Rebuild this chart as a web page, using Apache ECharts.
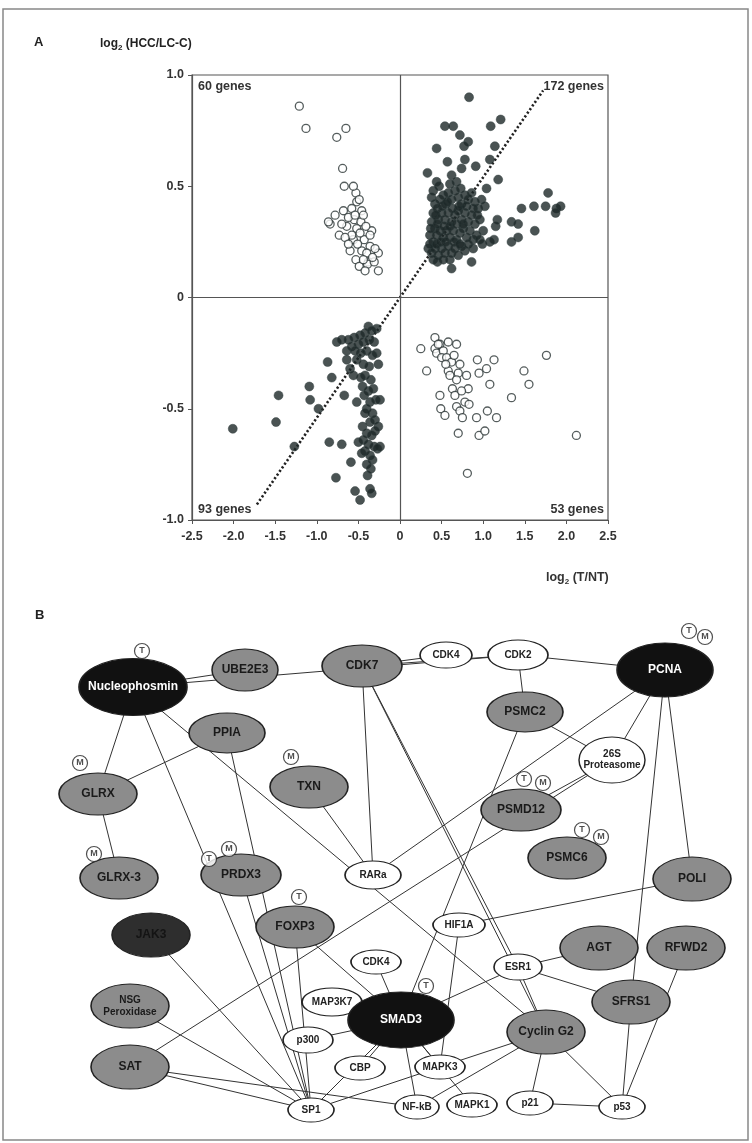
<!DOCTYPE html>
<html>
<head>
<meta charset="utf-8">
<script src="https://cdn.jsdelivr.net/npm/echarts@6/dist/echarts.min.js"></script>
<style>
  html, body { margin: 0; padding: 0; background: #fff; }
  #chart { width: 752px; height: 1143px; }
</style>
</head>
<body>
<div id="chart"></div>
<script>
// ---- panel A data: log2(T/NT) vs log2(HCC/LC-C)
const upLeft = [[-1.21,0.86],[-1.13,0.76],[-0.76,0.72],[-0.65,0.76],[-0.69,0.58],[-0.67,0.50],[-0.53,0.47],[-0.52,0.43],[-0.46,0.39],[-0.68,0.39],[-0.78,0.37],[-0.84,0.33],[-0.86,0.34],[-0.73,0.28],[-0.56,0.26],[-0.34,0.30],[-0.26,0.20],[-0.26,0.12],[-0.53,0.17],[-0.49,0.14],[-0.38,0.16],[-0.60,0.21],[-0.64,0.32],[-0.55,0.35],[-0.47,0.34],[-0.52,0.31],[-0.43,0.26],[-0.36,0.23],[-0.39,0.15],[-0.31,0.16],[-0.46,0.21],[-0.62,0.36],[-0.58,0.40],[-0.49,0.44],[-0.44,0.37],[-0.41,0.32],[-0.58,0.28],[-0.66,0.27],[-0.51,0.24],[-0.40,0.20],[-0.33,0.18],[-0.44,0.17],[-0.36,0.28],[-0.70,0.33],[-0.56,0.50],[-0.48,0.29],[-0.62,0.24],[-0.30,0.22],[-0.42,0.12],[-0.54,0.37]]
const upRight = [[0.83,0.90],[0.54,0.77],[0.64,0.77],[1.09,0.77],[1.21,0.80],[0.72,0.73],[0.82,0.70],[0.77,0.68],[0.44,0.67],[1.14,0.68],[0.78,0.62],[1.08,0.62],[0.57,0.61],[0.91,0.59],[0.74,0.58],[0.33,0.56],[0.62,0.55],[0.44,0.52],[1.18,0.53],[0.68,0.52],[1.04,0.49],[1.78,0.47],[1.46,0.40],[1.61,0.41],[1.75,0.41],[1.88,0.40],[1.93,0.41],[1.87,0.38],[1.34,0.34],[1.42,0.33],[1.62,0.30],[1.42,0.27],[1.34,0.25],[1.17,0.35],[1.15,0.32],[0.99,0.24],[1.08,0.25],[1.13,0.26],[0.86,0.16],[0.62,0.13],
  [0.38,0.45],[0.42,0.42],[0.40,0.38],[0.45,0.40],[0.48,0.44],[0.52,0.46],[0.55,0.42],[0.58,0.47],[0.62,0.44],[0.66,0.48],[0.70,0.45],[0.74,0.42],[0.78,0.46],[0.82,0.44],[0.86,0.47],[0.90,0.43],[0.94,0.40],[0.98,0.44],[1.02,0.41],[0.38,0.34],[0.42,0.31],[0.46,0.35],[0.50,0.38],[0.54,0.35],[0.58,0.38],[0.62,0.34],[0.66,0.37],[0.70,0.39],[0.74,0.35],[0.78,0.38],[0.82,0.34],[0.86,0.37],[0.90,0.33],[0.96,0.35],[1.00,0.30],[0.36,0.28],[0.40,0.25],[0.44,0.28],[0.48,0.30],[0.52,0.27],[0.56,0.30],[0.60,0.27],[0.64,0.30],[0.68,0.26],[0.72,0.29],[0.76,0.31],[0.80,0.27],[0.84,0.30],[0.88,0.26],[0.92,0.28],[0.34,0.22],[0.38,0.20],[0.42,0.22],[0.46,0.19],[0.50,0.22],[0.54,0.20],[0.58,0.23],[0.62,0.20],[0.66,0.22],[0.70,0.19],[0.74,0.23],[0.78,0.21],[0.82,0.24],[0.40,0.17],[0.45,0.16],[0.52,0.17],[0.60,0.17],[0.36,0.24],[0.44,0.24],[0.49,0.25],[0.55,0.25],[0.65,0.25],[0.72,0.24],[0.45,0.33],[0.53,0.32],[0.60,0.32],[0.68,0.33],[0.76,0.33],[0.63,0.40],[0.71,0.41],[0.51,0.41],[0.43,0.37],[0.57,0.43],[0.80,0.41],[0.88,0.40],[0.40,0.48],[0.47,0.50],[0.60,0.51],[0.73,0.49],[0.93,0.37],[0.37,0.31],[0.96,0.26],[0.88,0.22]]
const lowLeft = [[-2.01,-0.59],[-1.49,-0.56],[-1.46,-0.44],[-1.27,-0.67],[-1.09,-0.40],[-1.08,-0.46],[-0.98,-0.50],[-0.87,-0.29],[-0.82,-0.36],[-0.85,-0.65],[-0.70,-0.66],[-0.77,-0.81],[-0.67,-0.44],[-0.59,-0.74],[-0.54,-0.87],[-0.48,-0.91],[-0.36,-0.86],[-0.34,-0.88],[-0.39,-0.80],[-0.64,-0.24],[-0.64,-0.28],[-0.76,-0.20],[-0.52,-0.47],[-0.38,-0.13],[-0.28,-0.14],[-0.24,-0.46],[-0.26,-0.58],[-0.24,-0.67],[-0.28,-0.25],
  [-0.70,-0.19],[-0.62,-0.19],[-0.55,-0.18],[-0.48,-0.17],[-0.42,-0.16],[-0.34,-0.15],[-0.58,-0.22],[-0.50,-0.21],[-0.44,-0.20],[-0.37,-0.19],[-0.31,-0.20],[-0.47,-0.25],[-0.40,-0.24],[-0.33,-0.26],[-0.52,-0.28],[-0.60,-0.32],[-0.56,-0.35],[-0.44,-0.30],[-0.37,-0.31],[-0.42,-0.35],[-0.35,-0.37],[-0.45,-0.40],[-0.38,-0.42],[-0.32,-0.41],[-0.43,-0.44],[-0.36,-0.47],[-0.29,-0.46],[-0.40,-0.50],[-0.33,-0.52],[-0.30,-0.55],[-0.36,-0.56],[-0.45,-0.58],[-0.40,-0.61],[-0.34,-0.62],[-0.44,-0.64],[-0.38,-0.66],[-0.31,-0.67],[-0.27,-0.68],[-0.42,-0.69],[-0.36,-0.71],[-0.33,-0.73],[-0.40,-0.75],[-0.35,-0.77],[-0.42,-0.52],[-0.30,-0.60],[-0.47,-0.36],[-0.54,-0.24],[-0.26,-0.30],[-0.50,-0.65],[-0.46,-0.70]]
const lowRight = [[0.25,-0.23],[0.32,-0.33],[0.42,-0.18],[0.42,-0.23],[0.44,-0.25],[0.48,-0.21],[0.52,-0.24],[0.50,-0.27],[0.58,-0.20],[0.68,-0.21],[0.56,-0.27],[0.62,-0.29],[0.58,-0.33],[0.70,-0.34],[0.60,-0.35],[0.68,-0.37],[0.80,-0.35],[0.93,-0.28],[1.04,-0.32],[1.13,-0.28],[0.95,-0.34],[1.76,-0.26],[1.49,-0.33],[1.55,-0.39],[1.08,-0.39],[1.34,-0.45],[0.63,-0.41],[0.82,-0.41],[0.48,-0.44],[0.66,-0.44],[0.74,-0.42],[0.49,-0.50],[0.54,-0.53],[0.68,-0.49],[0.78,-0.47],[0.83,-0.48],[0.72,-0.51],[0.75,-0.54],[0.92,-0.54],[1.05,-0.51],[1.16,-0.54],[0.70,-0.61],[0.95,-0.62],[1.02,-0.60],[2.12,-0.62],[0.81,-0.79],[0.46,-0.21],[0.55,-0.30],[0.65,-0.26],[0.72,-0.30]]
const diagLine = [[-1.72, -0.93], [1.72, 0.93]]
const geneCounts = ['60 genes', '172 genes', '93 genes', '53 genes']

// ---- panel B data: interaction network (positions in figure units)
const nodeNames = ['Nucleophosmin','UBE2E3','CDK7','CDK4a','CDK2','PCNA','PSMC2','PPIA','26S','GLRX','TXN','PSMD12','PSMC6','GLRX-3','PRDX3','RARa','POLI','JAK3','FOXP3','HIF1A','CDK4b','ESR1','AGT','RFWD2','MAP3K7','SMAD3','NSG','SFRS1','CyclinG2','p300','SAT','CBP','MAPK3','SP1','NF-kB','MAPK1','p21','p53']
const nodeLabels = ['Nucleophosmin','UBE2E3','CDK7','CDK4','CDK2','PCNA','PSMC2','PPIA','26S\nProteasome','GLRX','TXN','PSMD12','PSMC6','GLRX-3','PRDX3','RARa','POLI','JAK3','FOXP3','HIF1A','CDK4','ESR1','AGT','RFWD2','MAP3K7','SMAD3','NSG\nPeroxidase','SFRS1','Cyclin G2','p300','SAT','CBP','MAPK3','SP1','NF-kB','MAPK1','p21','p53']
const nodeX = [133,245,362,446,518,665,525,227,612,98,309,521,567,119,241,373,692,151,295,459,376,518,599,686,332,401,130,631,546,308,130,360,440,311,417,472,530,622]
const nodeY = [687,670,666,655,655,670,712,733,760,794,787,810,858,878,875,875,879,935,927,925,962,967,948,948,1002,1020,1006,1002,1032,1040,1067,1068,1067,1110,1107,1105,1103,1107]
const nodeW = [108,66,80,52,60,96,76,76,66,78,78,80,78,78,80,56,78,78,78,52,50,48,78,78,60,106,78,78,78,50,78,50,50,46,44,50,46,46]
const nodeH = [57,42,42,26,30,54,40,40,46,42,42,42,42,42,42,28,44,44,42,24,24,26,44,44,28,56,44,44,44,26,44,24,24,24,24,24,24,24]
const nodeKind = ['black','grey','grey','white','white','black','grey','grey','white','grey','grey','grey','grey','grey','grey','white','grey','dark','grey','white','white','white','grey','grey','white','black','grey','grey','grey','white','grey','white','white','white','white','white','white','white']
const links = [
  ['Nucleophosmin','UBE2E3'],['Nucleophosmin','CDK2'],['CDK7','CDK4a'],['CDK7','CDK2'],['CDK2','PCNA'],['CDK2','PSMC2'],
  ['PSMC2','26S'],['PCNA','26S'],['PCNA','POLI'],['PCNA','SFRS1'],['PCNA','RARa'],['SAT','26S'],['PSMD12','26S'],
  ['CDK7','RARa'],['TXN','RARa'],['CDK7','ESR1'],['CDK7','CyclinG2'],
  ['Nucleophosmin','GLRX'],['PPIA','GLRX'],['GLRX','GLRX-3'],['Nucleophosmin','SP1'],['Nucleophosmin','CyclinG2'],
  ['PPIA','SP1'],['PRDX3','SP1'],['JAK3','SP1'],['NSG','SP1'],['SAT','SP1'],['SAT','NF-kB'],
  ['FOXP3','SMAD3'],['FOXP3','SP1'],['HIF1A','POLI'],['HIF1A','MAPK3'],['CDK4b','SMAD3'],['MAP3K7','SMAD3'],
  ['p300','SMAD3'],['CBP','SMAD3'],['SMAD3','ESR1'],['ESR1','AGT'],['ESR1','SFRS1'],['ESR1','CyclinG2'],
  ['CyclinG2','MAPK3'],['CyclinG2','NF-kB'],['CyclinG2','p21'],['CyclinG2','p53'],['p21','p53'],['RFWD2','p53'],
  ['SFRS1','p53'],['SMAD3','NF-kB'],['SMAD3','MAPK3'],['MAPK3','SP1'],['PSMC2','SMAD3'],['SMAD3','SP1'],['SMAD3','MAPK1']
]
const badgeText = ['T','T','M','M','M','T','M','T','M','M','T','M','T','T']
const badgeX = [142,689,705,80,291,524,543,582,601,94,209,229,299,426]
const badgeY = [651,631,637,763,757,779,783,830,837,854,859,849,897,986]

const kindStyle = {
  black: { fill: '#111', text: '#fff' },
  dark: { fill: '#2e2e2e', text: '#141414' },
  grey: { fill: '#8c8c8c', text: '#1a1a1a' },
  white: { fill: '#fff', text: '#222' }
}
const FONT = '"Liberation Sans Narrow", "Liberation Sans", Arial, sans-serif'

const graphNodes = nodeNames.map((n, i) => {
  const ks = kindStyle[nodeKind[i]]
  const small = nodeKind[i] === 'white'
  return {
    name: n,
    value: [nodeX[i], nodeY[i]],
    symbolSize: [nodeW[i], nodeH[i]],
    itemStyle: { color: ks.fill, borderColor: '#222', borderWidth: 1.2 },
    label: {
      formatter: nodeLabels[i],
      color: ks.text,
      fontSize: small ? 10 : (n === 'NSG' ? 10 : 12),
      lineHeight: small ? 11 : 12
    }
  }
})

const chart = echarts.init(document.getElementById('chart'))
const axisTxt = { color: '#333', fontWeight: 'bold', fontSize: 12.5, fontFamily: '"Liberation Sans", Arial, sans-serif' }
const fmt = v => (v === 0 ? '0' : v.toFixed(1))

chart.setOption({
  animation: false,
  backgroundColor: '#fff',
  grid: [
    { left: 192, top: 75, width: 416, height: 445, show: true, borderColor: '#555', borderWidth: 1.2 },
    { left: 0, top: 0, width: 752, height: 1143, show: false }
  ],
  xAxis: [
    {
      gridIndex: 0, type: 'value', min: -2.5, max: 2.5, interval: 0.5,
      axisLine: { show: true, onZero: false, lineStyle: { color: '#555', width: 1.2 } },
      axisTick: { show: true, length: 4, lineStyle: { color: '#555' } },
      axisLabel: Object.assign({ formatter: fmt, margin: 10 }, axisTxt),
      splitLine: { show: false }
    },
    { gridIndex: 1, type: 'value', min: 0, max: 752, show: false }
  ],
  yAxis: [
    {
      gridIndex: 0, type: 'value', min: -1, max: 1, interval: 0.5,
      axisLine: { show: true, onZero: false, lineStyle: { color: '#555', width: 1.2 } },
      axisTick: { show: true, length: 4, lineStyle: { color: '#555' } },
      axisLabel: Object.assign({ formatter: fmt, margin: 8 }, axisTxt),
      splitLine: { show: false }
    },
    { gridIndex: 1, type: 'value', min: 0, max: 1143, inverse: true, show: false }
  ],
  series: [
    {
      type: 'line', xAxisIndex: 0, yAxisIndex: 0, data: diagLine, symbol: 'none', silent: true,
      lineStyle: { color: '#222', width: 2.6, type: [2.2, 2.2] },
      markLine: {
        silent: true, symbol: 'none', label: { show: false },
        lineStyle: { color: '#555', width: 1.2, type: 'solid' },
        data: [{ xAxis: 0 }, { yAxis: 0 }]
      },
      z: 1
    },
    {
      type: 'scatter', xAxisIndex: 0, yAxisIndex: 0, data: upLeft.concat(lowRight), symbolSize: 8,
      itemStyle: { color: '#fff', borderColor: '#2a3434', borderWidth: 1.3 }, z: 3
    },
    {
      type: 'scatter', xAxisIndex: 0, yAxisIndex: 0, data: upRight.concat(lowLeft), symbolSize: 9,
      itemStyle: { color: '#1d2828', borderColor: '#334040', borderWidth: 0.6 }, z: 3
    },
    {
      type: 'graph', layout: 'none', coordinateSystem: 'cartesian2d', xAxisIndex: 1, yAxisIndex: 1,
      symbol: 'circle', roam: false, silent: true,
      label: { show: true, position: 'inside', fontWeight: 'bold', fontFamily: FONT },
      lineStyle: { color: '#333', width: 1, opacity: 1, curveness: 0 },
      emphasis: { disabled: true },
      data: graphNodes,
      links: links.map(l => ({ source: l[0], target: l[1] })),
      z: 4
    },
    {
      type: 'scatter', xAxisIndex: 1, yAxisIndex: 1, symbolSize: 15, silent: true,
      data: badgeText.map((t, i) => ({ name: t, value: [badgeX[i], badgeY[i]] })),
      itemStyle: { color: '#fff', borderColor: '#222', borderWidth: 1.2 },
      label: { show: true, position: 'inside', formatter: p => p.name, color: '#222', fontSize: 9, fontWeight: 'bold', fontFamily: FONT },
      z: 6
    }
  ],
  graphic: [
    { type: 'rect', shape: { x: 3, y: 9, width: 745, height: 1131 }, style: { fill: 'none', stroke: '#888', lineWidth: 1.5 }, silent: true },
    { type: 'text', x: 34, y: 36, style: { text: 'A', fontSize: 13, fontWeight: 'bold', fill: '#222', fontFamily: 'Liberation Sans' } },
    { type: 'text', x: 100, y: 36, style: { text: '{a|log}{s|2}{a| (HCC/LC-C)}', rich: { a: { fontSize: 12, fontWeight: 'bold', fill: '#222', fontFamily: 'Liberation Sans' }, s: { fontSize: 8, fontWeight: 'bold', fill: '#222', padding: [8, 0, 0, 0] } } } },
    { type: 'text', x: 198, y: 80, style: { text: geneCounts[0], fontSize: 12.5, fontWeight: 'bold', fill: '#333', fontFamily: 'Liberation Sans' } },
    { type: 'text', x: 604, y: 80, style: { text: geneCounts[1], align: 'right', fontSize: 12.5, fontWeight: 'bold', fill: '#333', fontFamily: 'Liberation Sans' } },
    { type: 'text', x: 198, y: 503, style: { text: geneCounts[2], fontSize: 12.5, fontWeight: 'bold', fill: '#333', fontFamily: 'Liberation Sans' } },
    { type: 'text', x: 604, y: 503, style: { text: geneCounts[3], align: 'right', fontSize: 12.5, fontWeight: 'bold', fill: '#333', fontFamily: 'Liberation Sans' } },
    { type: 'text', x: 546, y: 570, style: { text: '{a|log}{s|2}{a| (T/NT)}', rich: { a: { fontSize: 12.5, fontWeight: 'bold', fill: '#333', fontFamily: 'Liberation Sans' }, s: { fontSize: 8, fontWeight: 'bold', fill: '#333', padding: [8, 0, 0, 0] } } } },
    { type: 'text', x: 35, y: 609, style: { text: 'B', fontSize: 13, fontWeight: 'bold', fill: '#222', fontFamily: 'Liberation Sans' } }
  ]
})
</script>
</body>
</html>
